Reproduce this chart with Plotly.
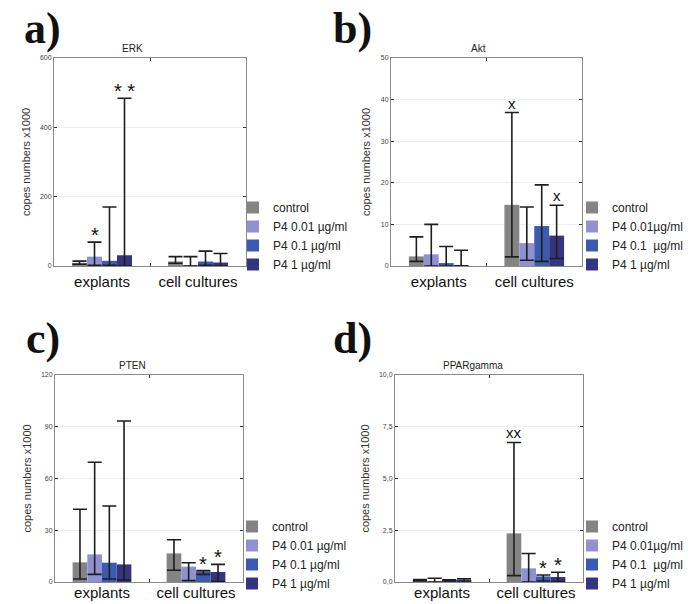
import plotly.graph_objects as go

categories = ['explants', 'cell cultures']
colors = ['#848484', '#9191d2', '#3c5bb0', '#34347f']

names_ac = ['control', 'P4 0.01 µg/ml', 'P4 0.1 µg/ml', 'P4 1 µg/ml']
names_bd = ['control', 'P4 0.01µg/ml', 'P4 0.1  µg/ml', 'P4 1 µg/ml']

# rows = series (control, 0.01, 0.1, 1), columns = categories
erk_val = [[9, 13], [27, 2], [15, 13], [31, 10]]
erk_low = [[5, 8], [2, 0], [2, 2], [0, 0]]
erk_high = [[14, 27], [69, 27], [170, 43], [484, 36]]
erk_ticks = [0, 200, 400, 600]
erk_marks = [(0, 1, '*'), (0, 3, '* *')]

akt_val = [[2.3, 14.7], [2.8, 5.5], [0.7, 9.6], [0.2, 7.3]]
akt_low = [[1.1, 2.2], [0, 1.4], [0, 1.1], [0, 1.8]]
akt_high = [[7.0, 36.9], [10.0, 14.2], [4.7, 19.5], [3.8, 14.6]]
akt_ticks = [0, 10, 20, 30, 40, 50]
akt_marks = [(1, 0, 'x'), (1, 3, 'x')]

pten_val = [[11.4, 16.6], [16, 8.9], [11.2, 6.2], [10.2, 5.8]]
pten_low = [[1.7, 6.8], [4.4, 0.8], [1.7, 4.4], [1.2, 0.2]]
pten_high = [[42.2, 24.5], [69.4, 11.2], [44.1, 6.6], [93.3, 10.2]]
pten_ticks = [0, 30, 60, 90, 120]
pten_marks = [(1, 2, '*'), (1, 3, '*')]

ppar_val = [[0.1, 2.35], [0.03, 0.66], [0.1, 0.27], [0.05, 0.24]]
ppar_low = [[0.05, 0.31], [0, 0], [0.05, 0.05], [0, 0.02]]
ppar_high = [[0.12, 6.74], [0.18, 1.38], [0.11, 0.34], [0.15, 0.47]]
ppar_ticks = [0, 2.5, 5, 7.5, 10]
ppar_ticktext = ['0,0', '2,5', '5,0', '7,5', '10,0']
ppar_marks = [(1, 0, 'xx'), (1, 2, '*'), (1, 3, '*')]

W, H = 692, 604
bargap = 0.375
bar_w = (1 - bargap) / 4

panels = [
    dict(title='ERK', letter='a)', val=erk_val, low=erk_low, high=erk_high,
         ticks=erk_ticks, ticktext=None, marks=erk_marks, names=names_ac,
         box=(54, 246, 58, 266), title_dx=-18, lab_off=2,
         letter_xy=(22, 29), leg=(233, 279)),
    dict(title='Akt', letter='b)', val=akt_val, low=akt_low, high=akt_high,
         ticks=akt_ticks, ticktext=None, marks=akt_marks, names=names_bd,
         box=(391, 582, 58, 266), title_dx=-8, lab_off=2,
         letter_xy=(331, 29), leg=(572, 279)),
    dict(title='PTEN', letter='c)', val=pten_val, low=pten_low, high=pten_high,
         ticks=pten_ticks, ticktext=None, marks=pten_marks, names=names_ac,
         box=(55, 243, 375, 582), title_dx=-17, lab_off=-3,
         letter_xy=(24, 338), leg=(232, 598)),
    dict(title='PPARgamma', letter='d)', val=ppar_val, low=ppar_low, high=ppar_high,
         ticks=ppar_ticks, ticktext=ppar_ticktext, marks=ppar_marks, names=names_bd,
         box=(395, 583, 375, 582), title_dx=-16, lab_off=-3,
         letter_xy=(331, 338), leg=(572, 598)),
]

fig = go.Figure()
layout = {}
annotations = []

for k, p in enumerate(panels):
    sfx = '' if k == 0 else str(k + 1)
    for i in range(4):
        val = p['val'][i]
        fig.add_trace(go.Bar(
            x=categories, y=val, name=p['names'][i],
            marker=dict(color=colors[i], line=dict(width=0)),
            error_y=dict(type='data', symmetric=False,
                         array=[h - v for h, v in zip(p['high'][i], val)],
                         arrayminus=[v - l for v, l in zip(val, p['low'][i])],
                         color='#1e1e1e', thickness=1.6, width=7),
            offsetgroup=str(i),
            xaxis='x' + sfx, yaxis='y' + sfx, legend='legend' + sfx,
        ))

    x0, x1, y0, y1 = p['box']
    layout['xaxis' + sfx] = dict(
        domain=[x0 / W, x1 / W], anchor='y' + sfx,
        range=[-0.5, 1.5], showgrid=False,
        showline=True, linecolor='#8a8a8a', linewidth=1, mirror='ticks',
        ticks='inside', tickson='boundaries', ticklen=3, tickcolor='#333',
        tickfont=dict(size=15, color='#111'), ticklabelstandoff=p['lab_off'],
    )
    yax = dict(
        domain=[1 - y1 / H, 1 - y0 / H], anchor='x' + sfx,
        range=[0, p['ticks'][-1]], tickvals=p['ticks'],
        showline=True, linecolor='#8a8a8a', linewidth=1, mirror='ticks',
        ticks='inside', ticklen=3, tickcolor='#333',
        tickfont=dict(size=7, color='#444'),
        showgrid=True, gridcolor='#eeeeee', zeroline=False,
        title=dict(text='copes numbers x1000', font=dict(size=11, color='#333'),
                   standoff=7),
        automargin=False,
    )
    if p['ticktext']:
        yax['ticktext'] = p['ticktext']
    layout['yaxis' + sfx] = yax

    lx, ly = p['leg']
    layout['legend' + sfx] = dict(
        x=lx / W, y=1 - ly / H, xanchor='left', yanchor='bottom',
        bgcolor='rgba(0,0,0,0)', tracegroupgap=0,
        font=dict(size=12, color='#222'),
    )

    annotations.append(dict(
        text=p['title'], xref='x' + sfx + ' domain', yref='y' + sfx + ' domain',
        x=0.5, y=1, yanchor='bottom', xshift=p['title_dx'], yshift=2,
        showarrow=False, font=dict(size=10, color='#222'),
    ))
    lxp, lyp = p['letter_xy']
    annotations.append(dict(
        text='<b>' + p['letter'] + '</b>', xref='paper', yref='paper',
        x=lxp / W, y=1 - lyp / H, xanchor='left', yanchor='middle',
        showarrow=False,
        font=dict(size=44, family='Liberation Serif', color='#111'),
    ))
    for c, s, label in p['marks']:
        star = '*' in label
        annotations.append(dict(
            text=label, xref='x' + sfx, yref='y' + sfx,
            x=c + (s - 1.5) * bar_w, y=p['high'][s][c],
            yanchor='bottom', yshift=-6 if star else -1, showarrow=False,
            font=dict(size=20 if star else 15, color='#111'),
        ))

fig.update_layout(
    **layout,
    annotations=annotations,
    barmode='group', bargap=bargap, bargroupgap=0,
    width=W, height=H, margin=dict(l=0, r=0, t=0, b=0),
    paper_bgcolor='white', plot_bgcolor='white',
    font=dict(family='Liberation Sans', color='#222'),
)

# the page body has a default 8px margin; drop it so the figure sits at 0,0
fig.write_html('out.html', config={'displayModeBar': False},
               post_script="document.body.style.margin='0';")
